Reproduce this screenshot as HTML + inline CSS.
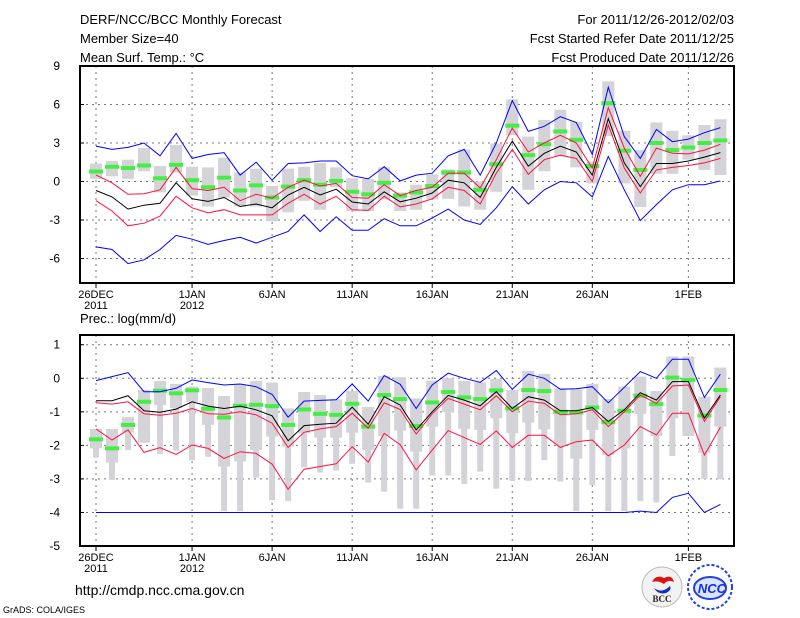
<!DOCTYPE html>
<html><head><meta charset="utf-8"><style>
html,body{margin:0;padding:0;background:#fff;}
svg{display:block;font-family:"Liberation Sans","DejaVu Sans",sans-serif;}
</style></head><body>
<svg id="c" width="800" height="618" viewBox="0 0 800 618" xmlns="http://www.w3.org/2000/svg">
<g font-size="13" fill="#000">
<text x="80" y="24">DERF/NCC/BCC Monthly Forecast</text>
<text x="80" y="43">Member Size=40</text>
<text x="80" y="62">Mean Surf. Temp.: °C</text>
<text x="734" y="24" text-anchor="end">For 2011/12/26-2012/02/03</text>
<text x="734" y="43" text-anchor="end">Fcst Started Refer Date 2011/12/25</text>
<text x="734" y="62" text-anchor="end">Fcst Produced Date 2011/12/26</text>
<text x="80" y="323">Prec.: log(mm/d)</text>
<text x="75" y="595" font-size="14">http://cmdp.ncc.cma.gov.cn</text>
<text x="3" y="613" font-size="9">GrADS: COLA/IGES</text>
</g>
<g>
<circle cx="662" cy="587" r="20" fill="#f2f2f2" stroke="#bbb"/>
<path d="M652 582 q4 -8 12 -4 q8 -4 10 4 q-6 -3 -10 2 q-6 -4 -12 -2z" fill="#e01010"/>
<path d="M654 588 q8 6 16 -2 q2 4 -4 7 q-8 2 -12 -5z" fill="#1030c0"/>
<text x="662" y="602" font-size="9" font-weight="bold" text-anchor="middle" fill="#222" font-family="Liberation Serif,serif">BCC</text>
</g>
<g>
<circle cx="710" cy="587" r="22" fill="#fff" stroke="#2040e0" stroke-width="2" stroke-dasharray="3 2"/>
<ellipse cx="710" cy="588" rx="16" ry="11" fill="#dde4ff" stroke="#2040e0" stroke-width="2"/>
<text x="712" y="593" font-size="13" font-style="italic" font-weight="bold" text-anchor="middle" fill="#1030e0">NCC</text>
</g>
</svg>
<script>
// ---------- Temperature panel data ----------
const days = Array.from({length:40},(_,i)=>i);
const xTickLabels = ["26DEC","1JAN","6JAN","11JAN","16JAN","21JAN","26JAN","1FEB"];
const xTickDays = [0,6,11,16,21,26,31,37];
const xTickYears = ["2011","2012","","","","","",""];
const tTicks = [9,6,3,0,-3,-6];
const tBlueHi = [2.76,2.5,2.66,3.0,2.0,3.75,1.8,2.1,2.25,0.5,1.5,0.1,1.4,1.45,1.6,1.6,0.45,0.2,1.15,0.05,0.5,0.65,2.0,2.5,0.5,3.0,6.3,3.9,4.3,5.05,4.6,2.1,7.35,3.5,1.8,4.05,3.1,3.3,3.8,4.2];
const tBlueLo = [-5.1,-5.3,-6.4,-6.1,-5.3,-4.2,-4.5,-4.9,-4.6,-4.35,-4.8,-4.35,-3.9,-2.6,-3.9,-2.75,-3.8,-3.8,-2.9,-3.45,-3.45,-2.85,-2.15,-3.0,-3.35,-2.05,-0.4,-1.75,-0.65,0,-0.1,-1.2,1.95,-0.65,-3.05,-1.8,-0.65,-0.25,-0.25,0.05];
const tRedHi = [0.5,-0.1,-1.0,-0.95,-0.65,1.1,-0.55,-0.7,-0.45,-1.5,-1.0,-1.3,-0.45,0.1,-0.35,-0.15,-1.25,-1.3,-0.25,-1.1,-0.7,-0.45,0.65,0.65,-0.5,1.7,4.15,2.3,3.0,3.6,3.0,1.05,5.75,2.6,0.4,2.6,2.2,2.15,2.45,2.9];
const tMean = [-0.7,-1.2,-2.15,-1.85,-1.7,-0.1,-1.35,-1.55,-1.25,-1.95,-1.75,-2.05,-1.05,-0.45,-1.05,-0.6,-1.6,-1.75,-0.8,-1.58,-1.3,-0.9,0.1,-0.1,-1.25,1.1,3.15,1.2,2.2,2.75,2.3,0.5,4.9,1.45,-0.4,1.4,1.4,1.6,1.9,2.25];
const tRedLo = [-1.5,-2.3,-3.45,-3.25,-2.7,-1.15,-2.05,-2.45,-2.2,-2.6,-2.6,-2.6,-1.7,-1.0,-1.75,-1.15,-2.2,-2.25,-1.15,-1.98,-1.75,-1.35,-0.45,-0.7,-1.75,0.65,2.5,0.55,1.7,2.05,1.8,0,4.4,1.05,-0.9,0.9,1.1,1.25,1.45,1.8];
const tGreen = [0.78,1.15,1.05,1.25,0.25,1.3,0.1,-0.45,0.3,-0.7,-0.3,-1.25,-0.4,0.1,-0.25,0.05,-0.8,-1.0,-0.1,-1.1,-0.85,-0.35,0.7,0.7,-0.65,1.35,4.35,2.05,2.9,3.9,3.25,1.2,6.1,2.4,0.9,3.0,2.45,2.65,3.0,3.2];
const tBoxTop = [1.4,1.6,1.7,2.6,1.2,2.85,1.15,1.1,1.85,0.7,1.0,-0.35,1.0,1.15,1.45,1.1,0.25,0.2,1.1,-0.85,-0.25,0.55,0.95,2.5,0,2.95,6.4,3.5,4.8,5.6,4.65,1.55,7.8,3.95,2.45,4.6,3.95,3.6,4.4,4.85];
const tBoxBot = [0.2,0.4,0.2,0.8,-0.85,0.7,-1.1,-1.95,-1.25,-1.95,-1.95,-3.1,-2.4,-1.5,-2.2,-0.45,-2.3,-2.3,-1.4,-2.3,-2.2,-1.4,-1.35,-1.95,-2.2,-0.8,3.6,-0.65,0.8,1.95,1.1,-0.15,3.55,-0.15,-2.0,0.6,0.6,1.7,0.9,0.5];
// ---------- Precipitation panel data ----------
const pTicks = [1,0,-1,-2,-3,-4,-5];
const pBlueHi = [-0.07,0.05,0.17,-0.4,-0.4,-0.3,-0.05,-0.13,-0.2,-0.17,-0.25,-0.48,-1.16,-0.68,-0.66,-0.64,-0.17,-0.68,0.08,-0.18,-0.9,-0.2,0.15,0,-0.12,0.23,-0.33,0.12,0,-0.33,-0.31,-0.25,-0.73,-0.27,0.2,0,0.57,0.57,-0.57,0.12];
const pBlueLo = [-4,-4,-4,-4,-4,-4,-4,-4,-4,-4,-4,-4,-4,-4,-4,-4,-4,-4,-4,-4,-4,-4,-4,-4,-4,-4,-4,-4,-4,-4,-4,-4,-4,-4,-3.96,-4,-3.55,-3.43,-4.0,-3.76];
const pRedHi = [-0.73,-0.77,-0.7,-1.06,-1.1,-1.04,-0.9,-1.06,-1.07,-1.0,-1.09,-1.34,-2.06,-1.61,-1.51,-1.44,-1.04,-1.49,-0.73,-0.93,-1.66,-1.06,-0.6,-0.77,-0.94,-0.52,-1.0,-0.68,-0.75,-1.09,-1.06,-0.94,-1.44,-1.0,-0.5,-0.75,-0.23,-0.2,-1.29,-0.55];
const pMean = [-0.67,-0.67,-0.52,-0.97,-1.01,-0.92,-0.7,-0.83,-0.9,-0.83,-0.94,-1.12,-1.86,-1.41,-1.37,-1.34,-0.86,-1.37,-0.55,-0.8,-1.54,-1.0,-0.51,-0.65,-0.82,-0.4,-0.9,-0.55,-0.65,-0.97,-0.97,-0.87,-1.29,-0.94,-0.43,-0.65,-0.1,-0.1,-1.19,-0.5];
const pRedLo = [-1.51,-1.84,-1.54,-2.21,-2.07,-2.27,-1.99,-2.09,-2.39,-2.19,-2.24,-2.56,-3.31,-2.71,-2.63,-2.55,-2.04,-2.5,-1.64,-1.98,-2.73,-2.14,-1.56,-1.77,-1.97,-1.57,-2.06,-1.7,-1.7,-2.06,-1.89,-1.84,-2.31,-1.99,-1.44,-1.69,-1.04,-1.04,-2.29,-1.46];
const pGreen = [-1.82,-2.09,-1.39,-0.7,-0.37,-0.45,-0.36,-0.91,-1.17,-0.82,-0.79,-0.83,-1.39,-0.93,-1.06,-1.09,-0.76,-1.44,-0.5,-0.62,-1.42,-0.72,-0.41,-0.57,-0.62,-0.36,-0.9,-0.35,-0.38,-1.0,-1.02,-0.87,-1.31,-0.97,-0.52,-0.77,0.02,-0.05,-1.11,-0.35];
const pMax = [-1.51,-1.51,-1.16,-0.35,-0.08,-0.17,-0.25,-0.29,-0.53,-0.18,-0.08,-0.13,-0.9,-0.41,-0.5,-0.63,-0.38,-0.86,0.07,0.03,-0.6,-0.07,0,-0.08,-0.12,-0.02,-0.35,0.22,0.13,-0.3,-0.33,-0.17,-0.62,-0.25,0.05,-0.38,0.65,0.65,-0.55,0.32];
const pMin = [-2.37,-3.03,-2.14,-1.92,-2.26,-2.16,-2.44,-2.34,-3.96,-3.96,-2.96,-3.63,-3.66,-2.66,-2.81,-2.75,-2.55,-3.11,-3.38,-3.89,-3.89,-2.9,-2.9,-3.15,-2.78,-3.29,-3.06,-3.06,-2.44,-3.08,-3.96,-3.18,-3.96,-3.96,-3.66,-3.7,-2.32,-1.72,-3.0,-3.01];
const pQ1 = [-2.09,-2.51,-1.62,-1.92,-0.8,-0.89,-0.7,-1.39,-2.63,-2.48,-2.14,-1.74,-2.04,-1.64,-1.77,-1.77,-1.62,-2.14,-1.72,-1.56,-2.19,-1.44,-1.01,-1.51,-1.54,-1.19,-1.64,-1.32,-1.52,-1.99,-2.4,-1.54,-2.29,-2.09,-1.06,-1.72,-1.19,-1.72,-2.22,-1.44];
// ---------- Layout ----------
const X0=80, X1=734, XD0=-1, XD1=39.85;
const xs = d => X0 + (d-XD0)/(XD1-XD0)*(X1-X0);
const T = {top:66, bot:283, vmax:9, vmin:-7.91};
const P = {top:335, bot:546, vmax:1.29, vmin:-5};
const ys = (p,v) => p.top + (p.vmax-v)/(p.vmax-p.vmin)*(p.bot-p.top);
const NS="http://www.w3.org/2000/svg";
const svg=document.getElementById('c');
function mk(tag, attrs, parent){const e=document.createElementNS(NS,tag);for(const k in attrs)e.setAttribute(k,attrs[k]);(parent||svg).appendChild(e);return e;}
function panel(p, ticks, name){
  const g=mk('g',{});
  
  
  // gridlines
  xTickDays.forEach(d=>{const l=mk('line',{x1:xs(d),x2:xs(d),y1:p.top,y2:p.bot,stroke:'#777','stroke-dasharray':'2 4','stroke-width':1},g);
    
    });
  ticks.forEach(v=>{const y=ys(p,v); if(y>p.top+2&&y<p.bot-2){const l=mk('line',{x1:X0,x2:X1,y1:y,y2:y,stroke:'#777','stroke-dasharray':'2 4','stroke-width':1},g);
    
    }
    const t=mk('text',{x:60,y:y+4,'text-anchor':'end','font-size':12},g); t.textContent=v;
    
    
    mk('line',{x1:X0,x2:X0+4,y1:y,y2:y,stroke:'#000'},g);});
  xTickDays.forEach((d,i)=>{mk('line',{x1:xs(d),x2:xs(d),y1:p.bot,y2:p.bot+5,stroke:'#000'},g);
    const t=mk('text',{x:xs(d),y:p.bot+15,'text-anchor':'middle','font-size':11},g); t.textContent=xTickLabels[i];
    
    
    if(xTickYears[i]){const t2=mk('text',{x:xs(d),y:p.bot+26,'text-anchor':'middle','font-size':11},g);t2.textContent=xTickYears[i];
      
      }});
  return g;
}
function line(p, arr, color, name, g){
  const pts=arr.map((v,i)=>xs(days[i]).toFixed(1)+','+ys(p,v).toFixed(1)).join(' ');
  const e=mk('polyline',{points:pts,fill:'none',stroke:color,'stroke-width':1},g);
  
  
}
function green(p, arr, g){arr.forEach((v,i)=>{const r=mk('rect',{x:xs(days[i])-7,y:ys(p,v)-2,width:14,height:4,fill:'#44ee44'},g);
  
  });}
// Temperature panel
const gT=panel(T,tTicks,'temperature-panel');
tBoxTop.forEach((v,i)=>{const y1=ys(T,v),y2=ys(T,tBoxBot[i]);
  const r=mk('rect',{x:xs(days[i])-6,y:y1,width:12,height:y2-y1,fill:'#d4d4d8'},gT);
  
  });
green(T,tGreen,gT);
line(T,tBlueHi,'#0000ff','temp-upper-bound',gT);
line(T,tBlueLo,'#0000ff','temp-lower-bound',gT);
line(T,tRedHi,'#ff1040','temp-upper-sigma',gT);
line(T,tRedLo,'#ff1040','temp-lower-sigma',gT);
line(T,tMean,'#000','temp-ensemble-mean',gT);
mk('rect',{x:X0,y:T.top,width:X1-X0,height:T.bot-T.top,fill:'none',stroke:'#000','stroke-width':2},gT);
// Precip panel
const gP=panel(P,pTicks,'precip-panel');
pMax.forEach((v,i)=>{const x=xs(days[i]);
  const r1=mk('rect',{x:x-3,y:ys(P,v),width:6,height:ys(P,pMin[i])-ys(P,v),fill:'#d4d4d8'},gP);
  
  
  const r2=mk('rect',{x:x-6,y:ys(P,v),width:12,height:ys(P,pQ1[i])-ys(P,v),fill:'#d4d4d8'},gP);
  
  });
green(P,pGreen,gP);
line(P,pBlueHi,'#0000ff','precip-upper-bound',gP);
line(P,pBlueLo,'#0000ff','precip-lower-bound',gP);
line(P,pRedHi,'#ff1040','precip-upper-sigma',gP);
line(P,pRedLo,'#ff1040','precip-lower-sigma',gP);
line(P,pMean,'#000','precip-ensemble-mean',gP);
mk('rect',{x:X0,y:P.top,width:X1-X0,height:P.bot-P.top,fill:'none',stroke:'#000','stroke-width':2},gP);
</script>
</body></html>
